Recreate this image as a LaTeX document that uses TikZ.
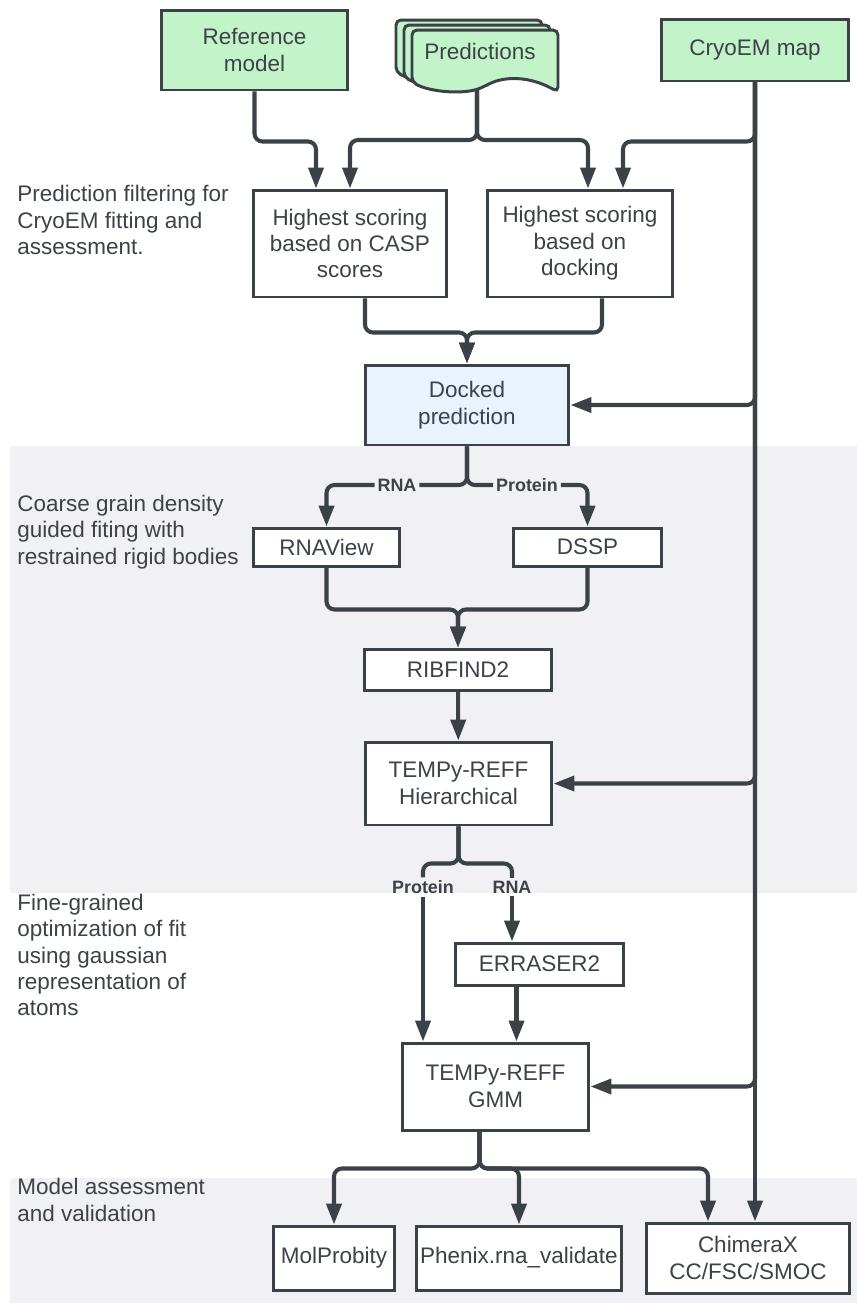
\documentclass[tikz,border=0pt]{standalone}
\usepackage{fontspec}
\setmainfont{Liberation Sans}
\usetikzlibrary{arrows.meta, positioning, calc}
\definecolor{linegrey}{RGB}{58,65,71}
\definecolor{textgrey}{RGB}{60,66,72}
\definecolor{inputgreen}{RGB}{195,243,200}
\definecolor{dockblue}{RGB}{232,243,254}
\definecolor{bandgrey}{RGB}{241,241,245}

\begin{document}
\begin{tikzpicture}[x=0.02cm, y=-0.02cm, font=\fontsize{12.8}{15}\selectfont, text=textgrey]
    \tikzstyle{box}=[rectangle, draw=linegrey, line width=1.7pt, fill=white, align=center, inner sep=2pt]
    \tikzstyle{input}=[box, fill=inputgreen]
    \tikzstyle{link}=[draw=linegrey, line width=2.3pt, rounded corners=0.16cm]
    \tikzstyle{arrow}=[link, -{Triangle[width=0.3cm, length=0.42cm]}]
    \tikzstyle{branch}=[font=\fontsize{10.2}{12}\selectfont\bfseries, inner sep=1.5pt]
    \tikzstyle{stage}=[anchor=west, align=left, inner sep=0pt]

    \useasboundingbox (0,0) rectangle (857,1303);

    % Background bands
    \fill[bandgrey, rounded corners=0.06cm] (10,446) rectangle (870,893);
    \fill[bandgrey, rounded corners=0.06cm] (10,1178) rectangle (870,1320);

    % Inputs
    \node[input, minimum width=3.74cm, minimum height=1.6cm] (ref) at (254.5,50) {Reference\\model};
    \node[input, minimum width=3.76cm, minimum height=1.24cm] (cryo) at (755,50) {CryoEM map};
    \foreach \k in {2,1,0} {
        \filldraw[fill=inputgreen, draw=linegrey, line width=1.7pt, rounded corners=0.1cm, shift={(-8*\k,-5*\k)}]
            (412,82) -- (412,30) -- (558,30) -- (558,92)
            .. controls (530,76) and (505,76) .. (485,86)
            .. controls (465,95) and (430,92) .. (412,82) -- cycle;
    }
    \node (pred) at (480,51) {Predictions};
    \coordinate (predout) at (477,89);

    % Prediction filtering
    \node[box, minimum width=3.88cm, minimum height=2.14cm] (casp) at (350,243.5) {Highest scoring\\based on CASP\\scores};
    \node[box, minimum width=3.72cm, minimum height=2.14cm] (dock) at (580,243.5) {Highest scoring\\based on\\docking};
    \node[box, fill=dockblue, minimum width=4.08cm, minimum height=1.6cm] (docked) at (467,405) {Docked\\prediction};

    % Coarse grain fitting
    \node[box, minimum width=2.94cm, minimum height=0.76cm] (rnaview) at (326.5,547) {RNAView};
    \node[box, minimum width=2.98cm, minimum height=0.76cm] (dssp) at (587.5,547) {DSSP};
    \node[box, minimum width=3.76cm, minimum height=0.82cm] (ribfind) at (458,669.5) {RIBFIND2};
    \node[box, minimum width=3.74cm, minimum height=1.66cm] (hier) at (458.5,783.5) {TEMPy-REFF\\Hierarchical};

    % Fine-grained fitting
    \node[box, minimum width=3.38cm, minimum height=0.84cm] (erraser) at (539.5,964) {ERRASER2};
    \node[box, minimum width=3.74cm, minimum height=1.74cm] (gmm) at (495.5,1086.5) {TEMPy-REFF\\GMM};

    % Assessment
    \node[box, minimum width=2.44cm, minimum height=1.28cm] (molp) at (334,1258) {MolProbity};
    \node[box, minimum width=4.04cm, minimum height=1.28cm] (phenix) at (519,1258) {Phenix.rna\_validate};
    \node[box, minimum width=4.08cm, minimum height=1.4cm] (chim) at (748,1258) {ChimeraX\\CC/FSC/SMOC};

    % Stage descriptions
    \node[stage] (s1) at (17,220) {Prediction filtering for\\CryoEM fitting and\\assessment.};
    \node[stage] (s2) at (17,532) {Coarse grain density\\guided fiting with\\restrained rigid bodies};
    \node[stage] (s3) at (17,955) {Fine-grained\\optimization of fit\\using gaussian\\representation of\\atoms};
    \node[stage] (s4) at (17,1200) {Model assessment\\and validation};

    % Connections into filtering
    \draw[arrow] (ref.south) -- ++(0,50) -| ($(casp.north)+(-34,0)$);
    \draw[arrow] (predout) -- ++(0,51) -| (casp.north);
    \draw[arrow] (predout) -- ++(0,51) -| ($(dock.north)+(8,0)$);
    \draw[arrow] (cryo.south) -- ++(0,59) -| ($(dock.north)+(43,0)$);
    \draw[arrow] ($(casp.south)+(15,0)$) -- ++(0,34) -| (docked.north);
    \draw[arrow] ($(dock.south)+(22,0)$) -- ++(0,34) -| (docked.north);

    % Map feeds every fitting step
    \foreach \t in {docked,hier,gmm} {
        \draw[arrow] (cryo.south) |- (\t.east);
    }
    \draw[arrow] (cryo.south) -- (cryo.south |- chim.north);

    % RNA / protein split
    \node[branch] (rna1) at (397,485) {RNA};
    \node[branch] (prot1) at (527,485) {Protein};
    \draw[link] (docked.south) |- (rna1.east);
    \draw[arrow] (rna1.west) -| (rnaview.north);
    \draw[link] (docked.south) |- (prot1.west);
    \draw[arrow] (prot1.east) -| (dssp.north);
    \draw[arrow] (rnaview.south) -- ++(0,42) -| (ribfind.north);
    \draw[arrow] (dssp.south) -- ++(0,42) -| (ribfind.north);
    \draw[arrow] (ribfind) -- (hier);

    \node[branch] (prot2) at (423,887) {Protein};
    \node[branch] (rna2) at (512,887) {RNA};
    \draw[link] (hier.south) -- ++(0,37) -| (prot2.north);
    \draw[link] (hier.south) -- ++(0,37) -| (rna2.north);
    \draw[arrow] (prot2.south) -- (prot2.south |- gmm.north);
    \draw[arrow] (rna2.south) -- (rna2.south |- erraser.north);
    \draw[arrow] ($(erraser.south)+(-23,0)$) coordinate (eout) -- (eout |- gmm.north);

    % Validation
    \coordinate (gout) at ($(gmm.south)+(-16,0)$);
    \draw[arrow] (gout) -- ++(0,37) -| (molp.north);
    \draw[arrow] (gout) -- ++(0,37) -| (phenix.north);
    \draw[arrow] (gout) -- ++(0,37) -| ($(chim.north)+(-40,0)$);
\end{tikzpicture}
\end{document}
